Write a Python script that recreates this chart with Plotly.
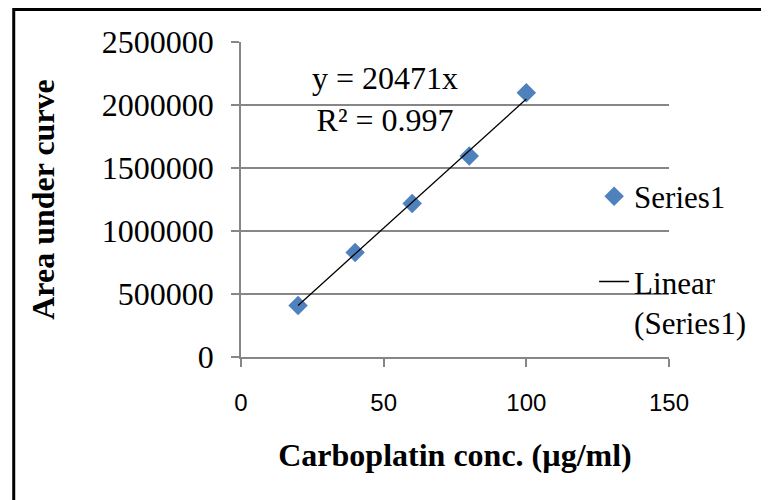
import plotly.graph_objects as go

# Data
conc = [20, 40, 60, 80, 100]
area = [408000, 830000, 1218000, 1595000, 2098000]
slope = 20471
r2 = 0.997
trend_x = [20, 100]
x_ticks = [0, 50, 100, 150]
y_ticks = [0, 500000, 1000000, 1500000, 2000000, 2500000]

SERIF = "Liberation Serif, Times New Roman, serif"
SANS = "Liberation Sans, Arial, sans-serif"
GRID = "#868686"

fig = go.Figure()
fig.add_trace(go.Scatter(
    x=conc, y=area, mode="markers", name="Series1",
    marker=dict(symbol="diamond", size=15, color="#4F81BD"),
    legendgroup="a",
))
fig.add_trace(go.Scatter(
    x=trend_x, y=[slope * v for v in trend_x], mode="lines",
    name="Linear<br>(Series1)",
    line=dict(color="black", width=1.3),
    legendgroup="b",
))

fig.add_annotation(
    x=50.5, y=2045000, xref="x", yref="y",
    text=f"y = {slope}x<br>R² = {r2}",
    showarrow=False, font=dict(family=SERIF, size=32, color="black"),
    align="center",
)

fig.add_shape(type="rect", xref="paper", yref="paper",
              x0=-0.531, x1=1.3, y0=-0.6, y1=1.103,
              line=dict(color="black", width=3), layer="above")

fig.update_layout(
    width=769, height=500,
    margin=dict(l=233, r=108, t=34, b=151, autoexpand=False),
    paper_bgcolor="white", plot_bgcolor="white",
    showlegend=True,
    legend=dict(
        x=0.825, y=0.595, xanchor="left", yanchor="top",
        font=dict(family=SERIF, size=31, color="black"),
        bgcolor="rgba(0,0,0,0)", tracegroupgap=42, valign="top",
        itemwidth=30,
    ),
    xaxis=dict(
        range=[0, 150], tickvals=x_ticks, showgrid=False, zeroline=False,
        showline=True, linecolor=GRID, linewidth=1.5,
        ticks="outside", ticklen=8, tickcolor=GRID, tickwidth=1.5,
        tickfont=dict(family=SANS, size=24, color="black"),
        ticklabelstandoff=15,
        title=dict(text="<b>Carboplatin conc. (µg/ml)</b>",
                   font=dict(family=SERIF, size=32, color="black"), standoff=29),
        automargin=False,
    ),
    yaxis=dict(
        range=[0, 2500000], tickvals=y_ticks, ticktext=[str(v) for v in y_ticks],
        showgrid=True, gridcolor=GRID, gridwidth=1.5, zeroline=False,
        showline=True, linecolor=GRID, linewidth=1.5,
        ticks="outside", ticklen=8, tickcolor=GRID, tickwidth=1.5,
        tickfont=dict(family=SERIF, size=32, color="black"),
        ticklabelstandoff=11,
        title=dict(text="<b>Area under curve</b>",
                   font=dict(family=SERIF, size=32, color="black"), standoff=38),
        automargin=False,
    ),
)

fig.write_html("out.html")
